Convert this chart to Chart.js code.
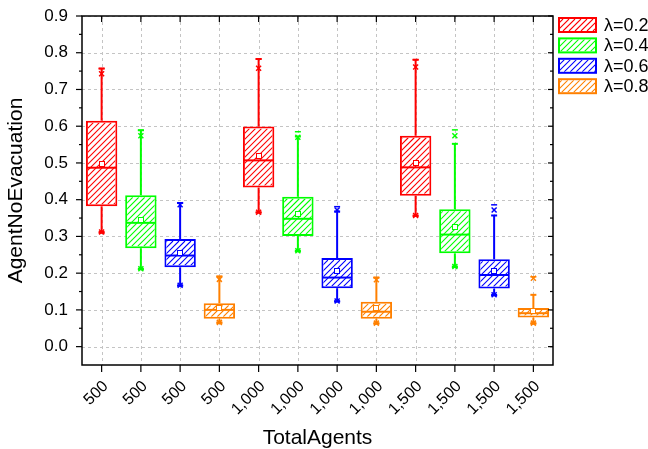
<!DOCTYPE html>
<html>
<head>
<meta charset="utf-8">
<script src="https://cdn.jsdelivr.net/npm/chart.js@4.4.1/dist/chart.umd.min.js"></script>
<style>
  html, body { margin: 0; padding: 0; background: #fff; overflow: hidden; }
  canvas { display: block; }
</style>
</head>
<body>
<canvas id="c" width="648" height="449"></canvas>
<script>
// Box statistics per group of agents and evacuation rate λ
const categories = ['500', '500', '500', '500', '1,000', '1,000', '1,000', '1,000', '1,500', '1,500', '1,500', '1,500'];
const seriesNames = ['λ=0.2', 'λ=0.4', 'λ=0.6', 'λ=0.8'];
const seriesColors = ['#ff0000', '#00ff00', '#0000ff', '#ff8000'];
const seriesOf = [0, 1, 2, 3, 0, 1, 2, 3, 0, 1, 2, 3];

const q1        = [0.382, 0.268, 0.216, 0.076, 0.433, 0.301, 0.159, 0.076, 0.411, 0.254, 0.158, 0.079];
const median    = [0.487, 0.337, 0.248, 0.100, 0.507, 0.348, 0.188, 0.095, 0.488, 0.305, 0.195, 0.091];
const q3        = [0.615, 0.412, 0.293, 0.118, 0.599, 0.408, 0.241, 0.122, 0.574, 0.374, 0.238, 0.105];
const mean      = [0.497, 0.345, 0.255, 0.106, 0.520, 0.361, 0.205, 0.105, 0.500, 0.325, 0.206, 0.096];
const whiskerLo = [0.312, 0.212, 0.167, 0.066, 0.366, 0.261, 0.124, 0.064, 0.357, 0.218, 0.141, 0.064];
const whiskerHi = [0.757, 0.589, 0.391, 0.191, 0.783, 0.572, 0.368, 0.188, 0.781, 0.552, 0.357, 0.141];
const pct1      = [0.312, 0.212, 0.167, 0.066, 0.366, 0.261, 0.124, 0.064, 0.357, 0.218, 0.141, 0.064];
const pct99     = [0.743, 0.574, 0.386, 0.183, 0.758, 0.570, 0.372, 0.182, 0.761, 0.574, 0.372, 0.186];
const minVal    = [0.309, 0.210, 0.165, 0.064, 0.364, 0.259, 0.122, 0.062, 0.355, 0.216, 0.139, 0.062];
const maxVal    = [0.757, 0.589, 0.391, 0.191, 0.783, 0.585, 0.381, 0.188, 0.781, 0.590, 0.386, 0.190];

const yTicks = [0, 0.1, 0.2, 0.3, 0.4, 0.5, 0.6, 0.7, 0.8, 0.9];
const yMinorTicks = [0.05, 0.15, 0.25, 0.35, 0.45, 0.55, 0.65, 0.75, 0.85];
const Y_MIN = -0.05, Y_MAX = 0.9;

const FONT = '"Liberation Sans", Arial, Helvetica, sans-serif';
const canvas = document.getElementById('c');

const datasets = seriesNames.map((name, s) => ({
  label: name,
  data: categories.map((c, i) => seriesOf[i] === s ? [q1[i], q3[i]] : null),
  backgroundColor: '#ffffff',
  borderColor: seriesColors[s],
  borderWidth: 2,
  borderSkipped: false,
  grouped: false,
  barPercentage: 0.8,
  categoryPercentage: 1.0
}));

function seg(ctx, x1, y1, x2, y2) {
  ctx.beginPath(); ctx.moveTo(x1, y1); ctx.lineTo(x2, y2); ctx.stroke();
}

// Diagonal "/" hatching inside a rectangle
function hatchRect(ctx, x0, y0, x1, y1, color) {
  ctx.save();
  ctx.beginPath();
  ctx.rect(x0, y0, x1 - x0, y1 - y0);
  ctx.clip();
  ctx.strokeStyle = color;
  ctx.lineWidth = 1.1;
  const step = 6;
  const start = Math.floor((x0 + y0) / step) * step;
  ctx.beginPath();
  for (let c = start; c <= x1 + y1 + step; c += step) {
    ctx.moveTo(c - y1, y1);
    ctx.lineTo(c - y0, y0);
  }
  ctx.stroke();
  ctx.restore();
}

// Dashed grid behind the boxes
const gridPlugin = {
  id: 'dashGrid',
  beforeDatasetsDraw(chart) {
    const { ctx, chartArea: a, scales: { x, y } } = chart;
    ctx.save();
    ctx.strokeStyle = '#c4c4c4';
    ctx.lineWidth = 1;
    ctx.setLineDash([3, 3]);
    yTicks.forEach(v => {
      const py = Math.round(y.getPixelForValue(v)) + 0.5;
      seg(ctx, a.left, py, a.right, py);
    });
    categories.forEach((c, i) => {
      const px = Math.round(x.getPixelForValue(i)) + 0.5;
      seg(ctx, px, a.top, px, a.bottom);
    });
    ctx.restore();
  }
};

// Hatching, whiskers, medians, means and percentile markers
const boxPlugin = {
  id: 'boxDetails',
  afterDatasetsDraw(chart) {
    const { ctx, scales: { x, y } } = chart;
    ctx.save();
    categories.forEach((c, i) => {
      const s = seriesOf[i];
      const bar = chart.getDatasetMeta(s).data[i];
      const cx = x.getPixelForValue(i);
      const half = bar.width / 2;
      const col = seriesColors[s];
      const py = v => y.getPixelForValue(v);
      const top = Math.min(bar.y, bar.base), bottom = Math.max(bar.y, bar.base);
      hatchRect(ctx, cx - half + 2, top + 2, cx + half - 2, bottom - 2, col);

      ctx.strokeStyle = col;
      ctx.lineWidth = 2;
      seg(ctx, cx, py(q3[i]), cx, py(whiskerHi[i]));
      seg(ctx, cx, py(q1[i]), cx, py(whiskerLo[i]));
      seg(ctx, cx - 3, py(whiskerHi[i]), cx + 3, py(whiskerHi[i]));
      seg(ctx, cx - 3, py(whiskerLo[i]), cx + 3, py(whiskerLo[i]));
      seg(ctx, cx - half + 1, py(median[i]), cx + half - 1, py(median[i]));
      ctx.fillStyle = '#ffffff';
      const mx = Math.round(cx), my = Math.round(py(mean[i]));
      ctx.fillRect(mx - 3, my - 3, 6, 6);
      ctx.lineWidth = 1;
      ctx.strokeRect(mx - 2.5, my - 2.5, 5, 5);
      ctx.lineWidth = 1.5;
      [pct1[i], pct99[i]].forEach(v => {
        const yy = py(v);
        seg(ctx, cx - 2.5, yy - 2.5, cx + 2.5, yy + 2.5);
        seg(ctx, cx - 2.5, yy + 2.5, cx + 2.5, yy - 2.5);
      });
      [minVal[i], maxVal[i]].forEach(v => {
        const yy = py(v);
        seg(ctx, cx - 3, yy, cx + 3, yy);
      });
    });
    ctx.restore();
  }
};

// Axis frame with tick marks, and the legend on the right
const framePlugin = {
  id: 'frame',
  afterDatasetsDraw(chart) {
    const { ctx, chartArea: a, scales: { x, y } } = chart;
    ctx.save();
    ctx.strokeStyle = '#000';
    ctx.lineWidth = 1.5;
    ctx.strokeRect(a.left, a.top, a.right - a.left, a.bottom - a.top);
    ctx.lineWidth = 1.2;
    yTicks.forEach(v => {
      const p = y.getPixelForValue(v);
      seg(ctx, a.left - 6, p, a.left, p);
      seg(ctx, a.right, p, a.right - 5, p);
    });
    yMinorTicks.forEach(v => {
      const p = y.getPixelForValue(v);
      seg(ctx, a.left - 3, p, a.left, p);
      seg(ctx, a.right, p, a.right - 3, p);
    });
    categories.forEach((c, i) => {
      const p = x.getPixelForValue(i);
      seg(ctx, p, a.bottom, p, a.bottom + 7);
      seg(ctx, p, a.top, p, a.top + 6);
    });

    // legend
    ctx.font = '18px ' + FONT;
    ctx.textBaseline = 'middle';
    ctx.textAlign = 'left';
    seriesNames.forEach((name, s) => {
      const cy = 25 + s * 20.4;
      ctx.fillStyle = '#ffffff';
      ctx.fillRect(559, cy - 7, 37, 14);
      hatchRect(ctx, 560, cy - 6, 595, cy + 6, seriesColors[s]);
      ctx.strokeStyle = seriesColors[s];
      ctx.lineWidth = 2;
      ctx.strokeRect(559, cy - 7, 37, 14);
      ctx.fillStyle = '#000';
      ctx.fillText(name, 604, cy + 1);
    });
    ctx.restore();
  }
};

new Chart(canvas, {
  type: 'bar',
  data: { labels: categories, datasets },
  plugins: [gridPlugin, boxPlugin, framePlugin],
  options: {
    responsive: false,
    animation: false,
    devicePixelRatio: 1,
    layout: { padding: { top: 16, right: 95, left: 0, bottom: 0 } },
    plugins: { legend: { display: false }, tooltip: { enabled: false } },
    scales: {
      x: {
        type: 'category',
        offset: true,
        grid: { display: false, drawTicks: true, tickLength: 12 },
        border: { display: false },
        ticks: {
          color: '#000',
          font: { family: FONT, size: 16 },
          maxRotation: 45,
          minRotation: 45,
          padding: 0,
          labelOffset: 4,
          autoSkip: false
        },
        title: {
          display: true,
          text: 'TotalAgents',
          color: '#000',
          font: { family: FONT, size: 21, lineHeight: 1 },
          padding: { top: 0, bottom: 0 }
        },
        afterFit(scale) { scale.height = 84; }
      },
      y: {
        min: Y_MIN,
        max: Y_MAX,
        bounds: 'data',
        grid: { display: false, drawTicks: true, tickLength: 14 },
        border: { display: false },
        afterBuildTicks(scale) {
          scale.ticks = yTicks.map(v => ({ value: v }));
          scale.min = Y_MIN;
          scale.max = Y_MAX;
        },
        ticks: {
          color: '#000',
          font: { family: FONT, size: 17 },
          padding: 0,
          callback: v => Number(v).toFixed(1)
        },
        title: {
          display: true,
          text: 'AgentNoEvacuation',
          color: '#000',
          font: { family: FONT, size: 21, lineHeight: 1 },
          padding: { top: 6, bottom: 0 }
        },
        afterFit(scale) { scale.width = 82; }
      }
    }
  }
});
</script>
</body>
</html>
